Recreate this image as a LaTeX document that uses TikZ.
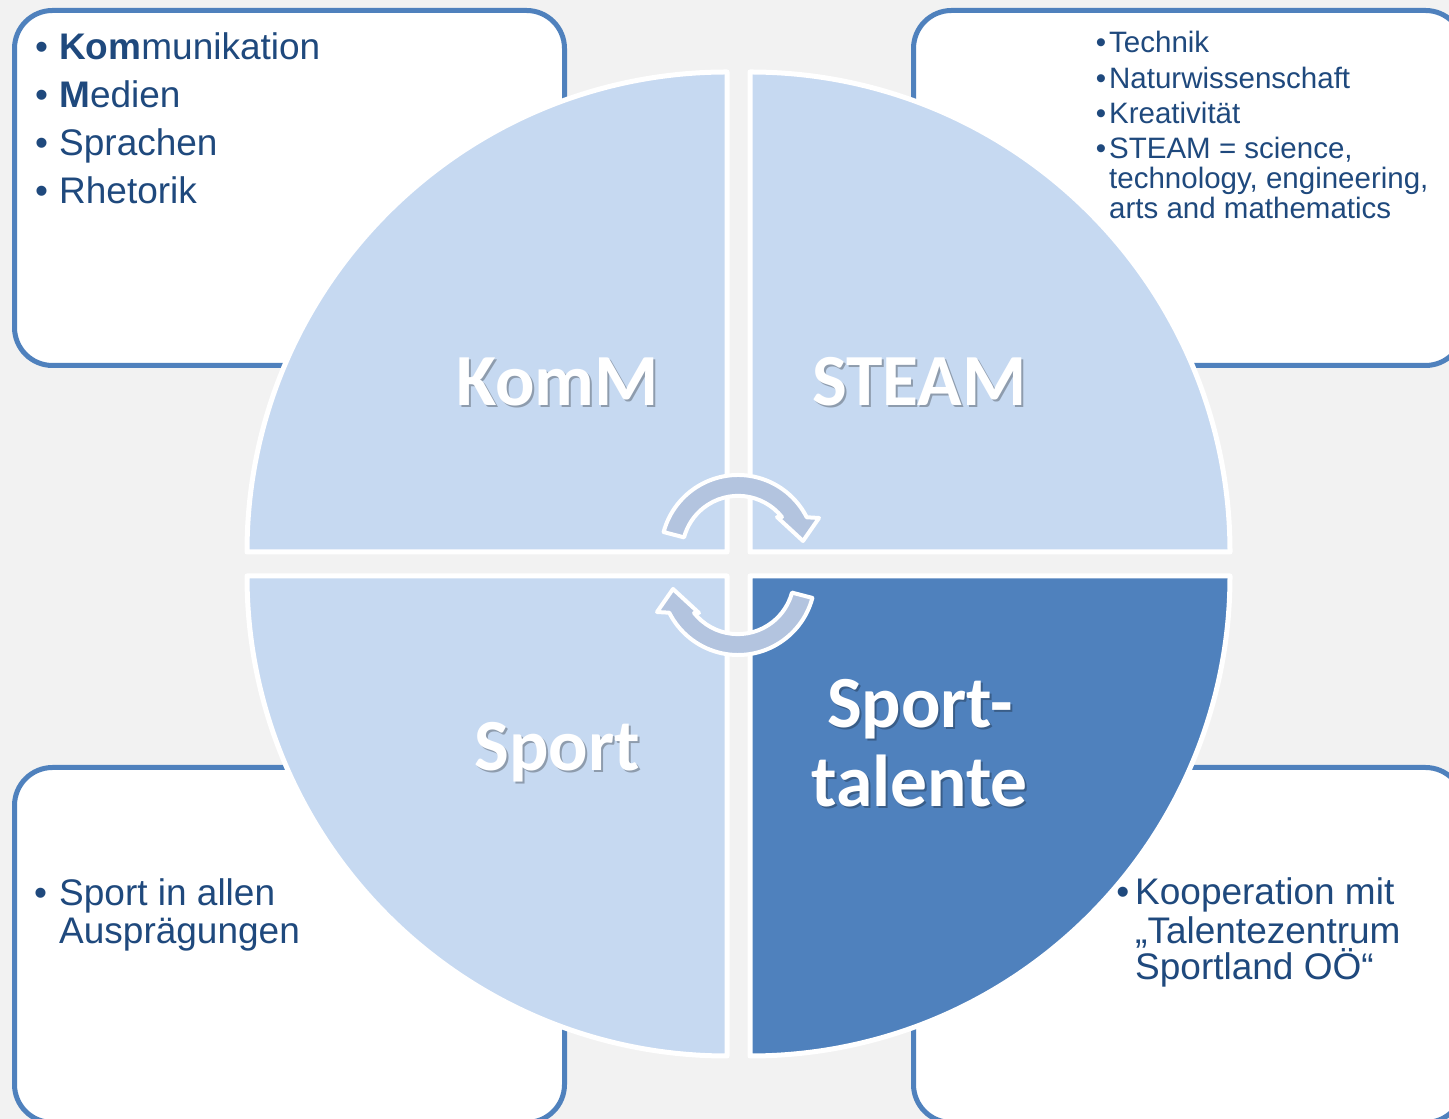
\documentclass[tikz,border=0pt]{standalone}
\usepackage{fontspec}
\setmainfont{Liberation Sans}
\newfontfamily\carlito{Carlito}
\definecolor{bg}{HTML}{F2F2F2}
\definecolor{boxblue}{HTML}{4F81BD}
\definecolor{lightq}{HTML}{C6D9F1}
\definecolor{darkq}{HTML}{4F81BD}
\definecolor{arrowc}{HTML}{B3C4DF}
\definecolor{txt}{HTML}{1F497D}
\newcommand\mybul[1]{\llap{•\hspace{#1pt}}}
\tikzset{
  infobox/.style={draw=boxblue, line width=5pt, fill=white, rounded corners=38pt},
  quad/.style={draw=white, line width=5pt, line join=round},
  bigtxt/.style={font=\carlito\bfseries\fontsize{73.5}{80}\selectfont, text=white, inner sep=0pt, anchor=base},
  shtxt/.style={font=\carlito\bfseries\fontsize{73.5}{80}\selectfont, text=black, opacity=0.28, inner sep=0pt, anchor=base},
  itm/.style={font=\fontsize{37}{40}\selectfont, text=txt, inner sep=0pt, anchor=base west},
  itms/.style={font=\fontsize{29.5}{31}\selectfont, text=txt, inner sep=0pt, anchor=base west},
  circarrow/.style={fill=arrowc, draw=white, line width=4pt, line join=round},
}
\begin{document}
\begin{tikzpicture}[x=1pt,y=1pt]
\useasboundingbox (0,0) rectangle (1449,1119);
\clip (0,0) rectangle (1449,1119);
\fill[bg] (0,0) rectangle (1449,1119);

% info boxes
\path[infobox] (14.5,1108.5) rectangle (564.5,753.5);
\path[infobox] (913.5,1108.5) rectangle (1463.5,753.5);
\path[infobox] (14.5,351.5) rectangle (564.5,-3.5);
\path[infobox] (913.5,351.5) rectangle (1463.5,-3.5);

% quadrants
\path[quad, fill=lightq] (727,567) -- ++(-480,0) arc[start angle=180, end angle=90, radius=480] -- cycle;
\path[quad, fill=lightq] (750,567) -- ++(0,480) arc[start angle=90, end angle=0, radius=480] -- cycle;
\path[quad, fill=lightq] (727,543) -- ++(0,-480) arc[start angle=270, end angle=180, radius=480] -- cycle;
\path[quad, fill=darkq] (750,543) -- ++(480,0) arc[start angle=0, end angle=-90, radius=480] -- cycle;

% circular arrows
\begin{scope}[shift={(738,567)}]
\path[circarrow] (165:77) arc[start angle=165, end angle=26.8, radius=77] -- (81,34) -- (65,11) -- (39,35) -- (44,34.9) arc[start angle=38.4, end angle=165, radius=56] -- cycle;
\end{scope}
\begin{scope}[shift={(738,541)}, rotate=180]
\path[circarrow] (165:77) arc[start angle=165, end angle=26.8, radius=77] -- (81,34) -- (65,11) -- (39,35) -- (44,34.9) arc[start angle=38.4, end angle=165, radius=56] -- cycle;
\end{scope}

% big labels with shadow
\node[shtxt] (komms) at (559.5,711) {KomM};
\node[bigtxt] (komm) at (557.5,713) {KomM};
\node[shtxt] (steams) at (921.5,711) {STEAM};
\node[bigtxt] (steam) at (919.5,713) {STEAM};
\node[shtxt] (sports) at (559,346) {Sport};
\node[bigtxt] (sport) at (557,348) {Sport};
\node[shtxt] (st1s) at (922,389) {Sport-};
\node[bigtxt] (st1) at (920,391) {Sport-};
\node[shtxt] (st2s) at (921.5,310) {talente};
\node[bigtxt] (st2) at (919.5,312) {talente};

% top-left box text
\node[itm] (a1) at (59,1059) {\mybul{11}\textbf{Kom}munikation};
\node[itm] (a2) at (59,1011) {\mybul{11}\textbf{M}edien};
\node[itm] (a3) at (59,963) {\mybul{11}Sprachen};
\node[itm] (a4) at (59,915) {\mybul{11}Rhetorik};

% top-right box text
\node[itms] (b1) at (1109,1066.3) {\mybul{3}Technik};
\node[itms] (b2) at (1109,1030.7) {\mybul{3}Naturwissenschaft};
\node[itms] (b3) at (1109,995) {\mybul{3}Kreativität};
\node[itms] (b4) at (1109,960) {\mybul{3}STEAM = science,};
\node[itms] (b5) at (1109,930.7) {technology, engineering,};
\node[itms] (b6) at (1109,900.7) {arts and mathematics};

% bottom-left box text
\node[itm] (c1) at (59,213) {\mybul{12}Sport in allen};
\node[itm] (c2) at (59,175) {Ausprägungen};

% bottom-right box text
\node[itm] (d1) at (1135,214) {\mybul{6}Kooperation mit};
\node[itm] (d2) at (1135,175.7) {„Talentezentrum};
\node[itm] (d3) at (1135,139) {Sportland OÖ“};
\end{tikzpicture}
\end{document}
